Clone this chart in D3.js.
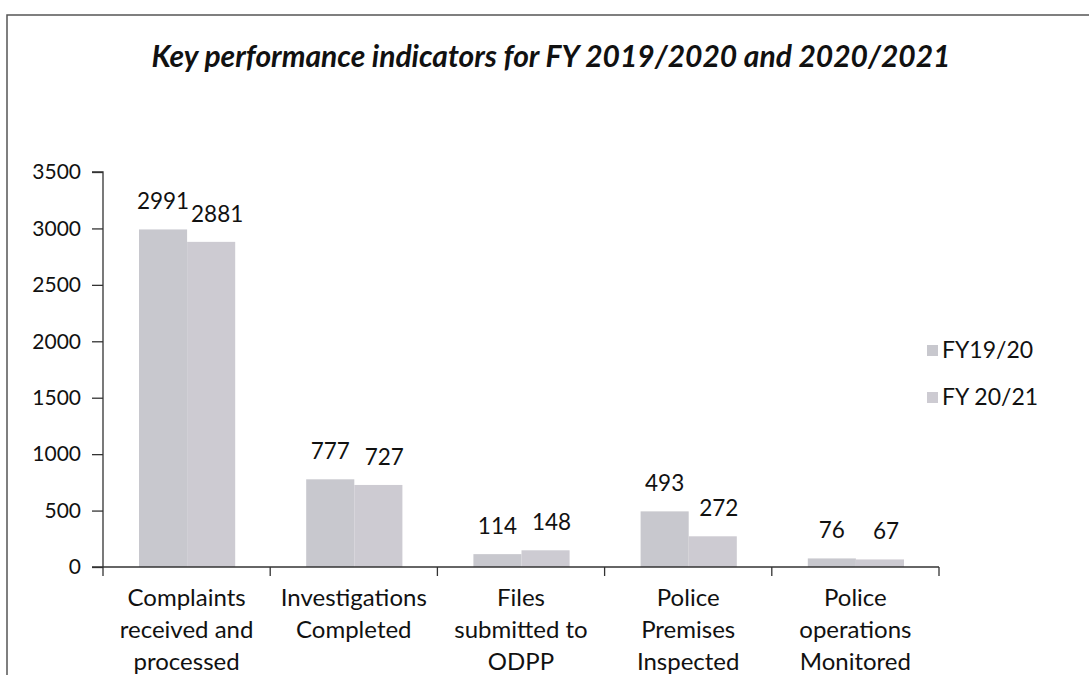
<!DOCTYPE html>
<html>
<head>
<meta charset="utf-8">
<script src="https://cdn.jsdelivr.net/npm/d3@7"></script>
<style>
  body { margin: 0; background: #fff; }
  svg text { font-family: Lato, "Open Sans", sans-serif; fill: #111; }
</style>
</head>
<body>
<div id="chart"></div>
<script>
let width = 1089,
  height = 675;

// the data
let categories = [
  ['Complaints', 'received and', 'processed'],
  ['Investigations', 'Completed'],
  ['Files', 'submitted to', 'ODPP'],
  ['Police', 'Premises', 'Inspected'],
  ['Police', 'operations', 'Monitored']
];
let seriesNames = ['FY19/20', 'FY 20/21'];
let fy1920 = [2991, 777, 114, 493, 76];
let fy2021 = [2881, 727, 148, 272, 67];
let yTicks = [0, 500, 1000, 1500, 2000, 2500, 3000, 3500];
let colors = ['#c8c8ce', '#cdcbd2'];

let svg = d3.select('#chart')
  .append('svg')
  .attr('width', width)
  .attr('height', height);

// frame of the chart area (the scan shows top and left edge)
svg.append('rect')
  .attr('x', 7)
  .attr('y', 15)
  .attr('width', 1100)
  .attr('height', 700)
  .attr('fill', 'none')
  .attr('stroke', '#555')
  .attr('stroke-width', 1.5);

svg.append('text')
  .attr('x', 551)
  .attr('y', 67)
  .attr('text-anchor', 'middle')
  .style('font-size', '30px')
  .style('font-weight', 'bold')
  .style('font-style', 'italic')
  .text('Key performance indicators for FY 2019/2020 and 2020/2021');

let plotLeft = 103, plotRight = 939, plotTop = 172, plotBottom = 567;

let xScale = d3.scaleBand()
  .domain(d3.range(categories.length))
  .range([plotLeft, plotRight])
  .paddingInner(0)
  .paddingOuter(0);

let inner = d3.scaleBand()
  .domain(d3.range(seriesNames.length))
  .range([36, xScale.bandwidth() - 35]);

let yScale = d3.scaleLinear()
  .domain([0, 3500])
  .range([plotBottom, plotTop]);

let series = [fy1920, fy2021];

// bars
series.forEach(function (vals, s) {
  svg.append('g')
    .selectAll('rect')
    .data(vals)
    .enter()
    .append('rect')
    .attr('x', function (d, i) { return xScale(i) + inner(s); })
    .attr('y', function (d) { return yScale(d); })
    .attr('width', inner.bandwidth())
    .attr('height', function (d) { return plotBottom - yScale(d); })
    .attr('fill', colors[s]);

  // value labels, second series sits a little to the right
  svg.append('g')
    .selectAll('text')
    .data(vals)
    .enter()
    .append('text')
    .attr('x', function (d, i) { return xScale(i) + inner(s) + inner.bandwidth() / 2 + s * 6; })
    .attr('y', function (d) { return yScale(d) - 20; })
    .attr('text-anchor', 'middle')
    .style('font-size', '22.5px')
    .text(function (d) { return d; });
});

// y axis
let yAxis = d3.axisLeft(yScale).tickValues(yTicks).tickFormat(d3.format('d')).tickSize(11).tickPadding(11);
let gy = svg.append('g')
  .attr('transform', 'translate(' + plotLeft + ',0)')
  .call(yAxis);
gy.selectAll('text').style('font-size', '21px').attr('fill', '#111');
gy.selectAll('line, path').attr('stroke', '#333').attr('stroke-width', 1.3);
gy.select('.domain').attr('d', 'M-11,' + plotTop + 'H0V' + plotBottom);

// x axis line with category dividers
let gx = svg.append('g');
gx.append('line')
  .attr('x1', plotLeft - 11).attr('x2', plotRight)
  .attr('y1', plotBottom).attr('y2', plotBottom)
  .attr('stroke', '#333').attr('stroke-width', 1.3);
gx.selectAll('.div')
  .data(d3.range(categories.length + 1))
  .enter()
  .append('line')
  .attr('x1', function (d) { return d < categories.length ? xScale(d) : plotRight; })
  .attr('x2', function (d) { return d < categories.length ? xScale(d) : plotRight; })
  .attr('y1', plotBottom)
  .attr('y2', plotBottom + 9)
  .attr('stroke', '#333').attr('stroke-width', 1.3);

// category labels
let cat = svg.append('g')
  .selectAll('text')
  .data(categories)
  .enter()
  .append('text')
  .attr('text-anchor', 'middle')
  .attr('x', function (d, i) { return xScale(i) + xScale.bandwidth() / 2; })
  .attr('y', 606)
  .style('font-size', '24px');
cat.selectAll('tspan')
  .data(function (d) { return d; })
  .enter()
  .append('tspan')
  .attr('x', function () { return d3.select(this.parentNode).attr('x'); })
  .attr('dy', function (d, i) { return i === 0 ? 0 : 32; })
  .text(function (d) { return d; });

// legend
let legend = svg.append('g')
  .selectAll('g')
  .data(seriesNames)
  .enter()
  .append('g')
  .attr('transform', function (d, i) { return 'translate(927,' + (350 + i * 47) + ')'; });
legend.append('rect')
  .attr('x', 0).attr('y', -5)
  .attr('width', 11).attr('height', 11)
  .attr('fill', function (d, i) { return colors[i]; });
legend.append('text')
  .attr('x', 15)
  .attr('y', 8)
  .style('font-size', '23px')
  .text(function (d) { return d; });
</script>
</body>
</html>
